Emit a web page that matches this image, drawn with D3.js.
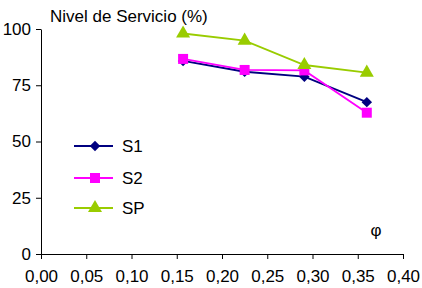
<!DOCTYPE html>
<html>
<head>
<meta charset="utf-8">
<script src="https://cdn.jsdelivr.net/npm/d3@7.9.0/dist/d3.min.js"></script>
<style>
  body { margin: 0; background: #fff; }
  svg { display: block; font-family: Arial, "Liberation Sans", sans-serif; }
  .axis path, .axis line { stroke: #000; stroke-width: 1; }
  .axis text { font-size: 17px; fill: #000; }
</style>
</head>
<body>
<svg id="chart" width="422" height="288"></svg>
<script>
// ─── Data ────────────────────────────────────────────────────────────────────
const phi = [0.157, 0.225, 0.291, 0.36];
const s1 = [85.8, 81.0, 78.8, 67.5];
const s2 = [86.7, 81.8, 81.6, 62.8];
const sp = [98.0, 94.8, 84.0, 80.6];
const xTicks = [0, 0.05, 0.10, 0.15, 0.20, 0.25, 0.30, 0.35, 0.40];
const yTicks = [0, 25, 50, 75, 100];

// diamond = square turned 45°
const seriesList = [
  { name: 'S1', values: s1, color: '#000080', symbol: d3.symbolSquare, size: 55, rot: 45 },
  { name: 'S2', values: s2, color: '#ff00ff', symbol: d3.symbolSquare, size: 100, rot: 0 },
  { name: 'SP', values: sp, color: '#99cc00', symbol: d3.symbolTriangle, size: 85, rot: 0 }
];

const svg = d3.select('#chart');
const x = d3.scaleLinear().domain([0, 0.4]).range([41, 403]);
const y = d3.scaleLinear().domain([0, 100]).range([254, 29]);
const fmt = d => d.toFixed(2).replace('.', ',');

// axes
svg.append('g')
  .attr('class', 'axis')
  .attr('transform', 'translate(0,254)')
  .call(d3.axisBottom(x).tickValues(xTicks).tickFormat(fmt).tickSizeInner(5).tickSizeOuter(0).tickPadding(11));

svg.append('g')
  .attr('class', 'axis')
  .attr('transform', 'translate(41,0)')
  .call(d3.axisLeft(y).tickValues(yTicks).tickSizeInner(5).tickSizeOuter(0).tickPadding(5));

// titles
svg.append('text').attr('x', 50).attr('y', 22).attr('font-size', 17).text('Nivel de Servicio (%)');
svg.append('text').attr('x', 376).attr('y', 236).attr('font-size', 17).attr('text-anchor', 'middle').text('φ');

// series lines + markers
const line = d3.line().x((d, i) => x(phi[i])).y(d => y(d));

seriesList.forEach(s => {
  svg.append('path')
    .attr('d', line(s.values))
    .attr('fill', 'none')
    .attr('stroke', s.color)
    .attr('stroke-width', 1.8);
  svg.selectAll(null)
    .data(s.values)
    .enter()
    .append('path')
    .attr('d', d3.symbol().type(s.symbol).size(s.size))
    .attr('transform', (d, i) => `translate(${x(phi[i])},${y(d)}) rotate(${s.rot})`)
    .attr('fill', s.color);
});

// legend
const legendY = [146, 178, 208];
seriesList.forEach((s, i) => {
  const g = svg.append('g').attr('transform', `translate(0,${legendY[i]})`);
  g.append('line').attr('x1', 74).attr('x2', 113).attr('stroke', s.color).attr('stroke-width', 1.8);
  g.append('path').attr('d', d3.symbol().type(s.symbol).size(s.size)).attr('transform', `translate(95,0) rotate(${s.rot})`).attr('fill', s.color);
  g.append('text').attr('x', 122).attr('y', 6).attr('font-size', 17).text(s.name);
});
</script>
</body>
</html>
